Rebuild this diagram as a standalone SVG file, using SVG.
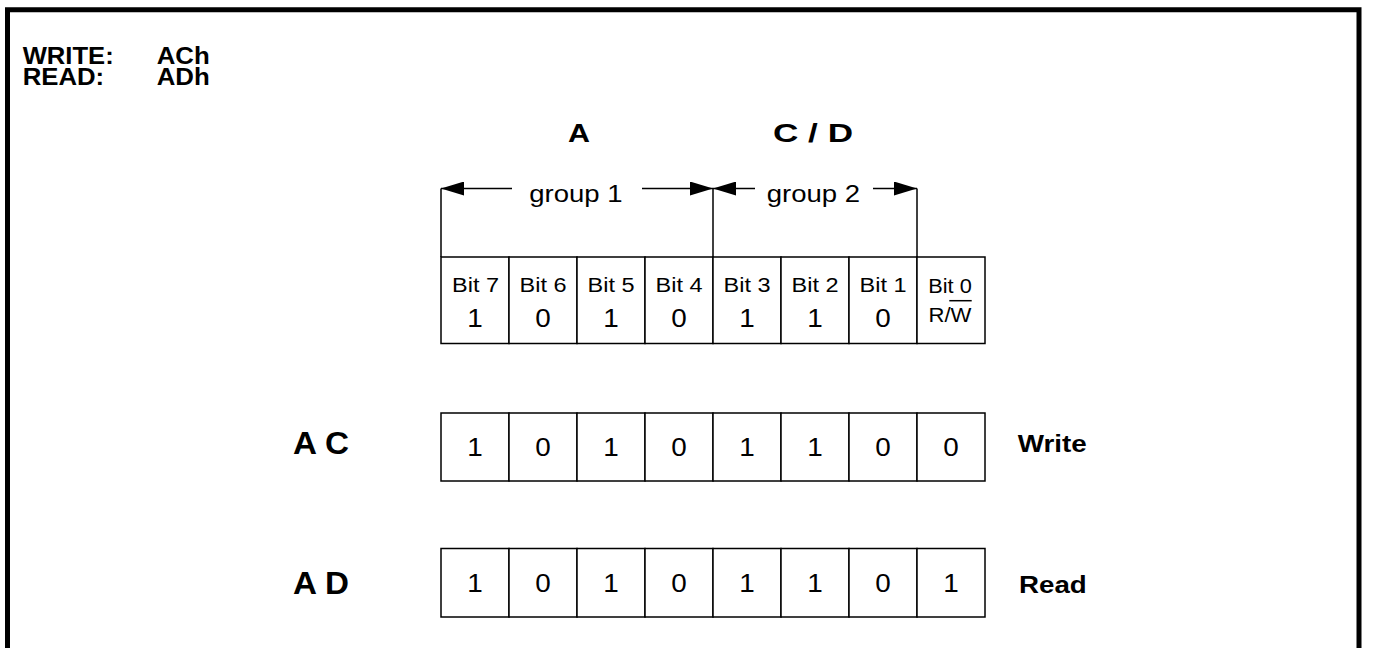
<svg xmlns="http://www.w3.org/2000/svg" width="1376" height="648" viewBox="0 0 1376 648">
<style>
text{font-family:"Liberation Sans",Arial,Helvetica,sans-serif;fill:#000}
.b{font-weight:bold}
.cell{fill:#fff;stroke:#000;stroke-width:1.5}
.ln{stroke:#000;stroke-width:1.5;fill:none}
.frame{stroke:#000;stroke-width:5;fill:none}
.bit{font-size:20px}
.val{font-size:25px}
</style>
<defs>
<marker id="ah" markerUnits="userSpaceOnUse" markerWidth="23" markerHeight="14" refX="23" refY="7" orient="auto">
<path d="M0,0 L23,7 L0,14 Z" fill="#000"/>
</marker>
</defs>
<rect width="1376" height="648" fill="#fff"/>
<g id="frame">
<path class="frame" d="M7.5,648 V9.8 H1359 V648"/>
</g>
<g id="header">
<text class="b" x="22.7" y="64" font-size="23" textLength="91" lengthAdjust="spacingAndGlyphs">WRITE:</text>
<text class="b" x="156.7" y="64" font-size="23" textLength="53" lengthAdjust="spacingAndGlyphs">ACh</text>
<text class="b" x="22.7" y="85" font-size="23" textLength="81.5" lengthAdjust="spacingAndGlyphs">READ:</text>
<text class="b" x="156.7" y="85" font-size="23" textLength="53" lengthAdjust="spacingAndGlyphs">ADh</text>
</g>
<g id="group-titles">
<text class="b" x="568" y="142" font-size="25" textLength="22" lengthAdjust="spacingAndGlyphs">A</text>
<text class="b" x="773" y="142" font-size="25" textLength="80" lengthAdjust="spacingAndGlyphs">C / D</text>
<text x="529.3" y="202" font-size="24.5" textLength="93.3" lengthAdjust="spacingAndGlyphs">group 1</text>
<text x="766.7" y="202" font-size="24.5" textLength="93.3" lengthAdjust="spacingAndGlyphs">group 2</text>
</g>
<g id="connectors">
<line class="ln" x1="441" y1="188.5" x2="441" y2="257"/>
<line class="ln" x1="713" y1="188.5" x2="713" y2="257"/>
<line class="ln" x1="917" y1="188.5" x2="917" y2="257"/>
<line class="ln" x1="512" y1="188.5" x2="441" y2="188.5" marker-end="url(#ah)"/>
<line class="ln" x1="642" y1="188.5" x2="713" y2="188.5" marker-end="url(#ah)"/>
<line class="ln" x1="755" y1="188.5" x2="713" y2="188.5" marker-end="url(#ah)"/>
<line class="ln" x1="873" y1="188.5" x2="917" y2="188.5" marker-end="url(#ah)"/>
</g>
<g id="bit-table">
<rect class="cell" x="441" y="257" width="68" height="86.5"/>
<rect class="cell" x="509" y="257" width="68" height="86.5"/>
<rect class="cell" x="577" y="257" width="68" height="86.5"/>
<rect class="cell" x="645" y="257" width="68" height="86.5"/>
<rect class="cell" x="713" y="257" width="68" height="86.5"/>
<rect class="cell" x="781" y="257" width="68" height="86.5"/>
<rect class="cell" x="849" y="257" width="68" height="86.5"/>
<rect class="cell" x="917" y="257" width="68" height="86.5"/>
<g text-anchor="middle">
<text class="bit" x="475.5" y="292" textLength="47" lengthAdjust="spacingAndGlyphs">Bit 7</text>
<text class="bit" x="543" y="292" textLength="47" lengthAdjust="spacingAndGlyphs">Bit 6</text>
<text class="bit" x="611" y="292" textLength="47" lengthAdjust="spacingAndGlyphs">Bit 5</text>
<text class="bit" x="679" y="292" textLength="47" lengthAdjust="spacingAndGlyphs">Bit 4</text>
<text class="bit" x="747" y="292" textLength="47" lengthAdjust="spacingAndGlyphs">Bit 3</text>
<text class="bit" x="815" y="292" textLength="47" lengthAdjust="spacingAndGlyphs">Bit 2</text>
<text class="bit" x="883" y="292" textLength="47" lengthAdjust="spacingAndGlyphs">Bit 1</text>
<text class="bit" x="950" y="293.3" textLength="43.5" lengthAdjust="spacingAndGlyphs">Bit 0</text>
<text class="val" x="475" y="326.5" textLength="15.5" lengthAdjust="spacingAndGlyphs">1</text>
<text class="val" x="543" y="326.5" textLength="15.5" lengthAdjust="spacingAndGlyphs">0</text>
<text class="val" x="611" y="326.5" textLength="15.5" lengthAdjust="spacingAndGlyphs">1</text>
<text class="val" x="679" y="326.5" textLength="15.5" lengthAdjust="spacingAndGlyphs">0</text>
<text class="val" x="747" y="326.5" textLength="15.5" lengthAdjust="spacingAndGlyphs">1</text>
<text class="val" x="815" y="326.5" textLength="15.5" lengthAdjust="spacingAndGlyphs">1</text>
<text class="val" x="883" y="326.5" textLength="15.5" lengthAdjust="spacingAndGlyphs">0</text>
<text x="950" y="321.7" font-size="21" textLength="43" lengthAdjust="spacingAndGlyphs">R/W</text>
</g>
<line class="ln" x1="949.3" y1="300.7" x2="971.7" y2="300.7"/>
</g>
<g id="row-ac">
<text class="b" x="293" y="454" font-size="31" textLength="56" lengthAdjust="spacingAndGlyphs">A C</text>
<rect class="cell" x="441" y="413" width="68" height="68"/>
<rect class="cell" x="509" y="413" width="68" height="68"/>
<rect class="cell" x="577" y="413" width="68" height="68"/>
<rect class="cell" x="645" y="413" width="68" height="68"/>
<rect class="cell" x="713" y="413" width="68" height="68"/>
<rect class="cell" x="781" y="413" width="68" height="68"/>
<rect class="cell" x="849" y="413" width="68" height="68"/>
<rect class="cell" x="917" y="413" width="68" height="68"/>
<g text-anchor="middle">
<text class="val" x="475" y="456" textLength="15.5" lengthAdjust="spacingAndGlyphs">1</text>
<text class="val" x="543" y="456" textLength="15.5" lengthAdjust="spacingAndGlyphs">0</text>
<text class="val" x="611" y="456" textLength="15.5" lengthAdjust="spacingAndGlyphs">1</text>
<text class="val" x="679" y="456" textLength="15.5" lengthAdjust="spacingAndGlyphs">0</text>
<text class="val" x="747" y="456" textLength="15.5" lengthAdjust="spacingAndGlyphs">1</text>
<text class="val" x="815" y="456" textLength="15.5" lengthAdjust="spacingAndGlyphs">1</text>
<text class="val" x="883" y="456" textLength="15.5" lengthAdjust="spacingAndGlyphs">0</text>
<text class="val" x="951" y="456" textLength="15.5" lengthAdjust="spacingAndGlyphs">0</text>
</g>
<text class="b" x="1017.7" y="451.7" font-size="24" textLength="69" lengthAdjust="spacingAndGlyphs">Write</text>
</g>
<g id="row-ad">
<text class="b" x="293" y="594" font-size="31" textLength="56" lengthAdjust="spacingAndGlyphs">A D</text>
<rect class="cell" x="441" y="548.5" width="68" height="68.5"/>
<rect class="cell" x="509" y="548.5" width="68" height="68.5"/>
<rect class="cell" x="577" y="548.5" width="68" height="68.5"/>
<rect class="cell" x="645" y="548.5" width="68" height="68.5"/>
<rect class="cell" x="713" y="548.5" width="68" height="68.5"/>
<rect class="cell" x="781" y="548.5" width="68" height="68.5"/>
<rect class="cell" x="849" y="548.5" width="68" height="68.5"/>
<rect class="cell" x="917" y="548.5" width="68" height="68.5"/>
<g text-anchor="middle">
<text class="val" x="475" y="592" textLength="15.5" lengthAdjust="spacingAndGlyphs">1</text>
<text class="val" x="543" y="592" textLength="15.5" lengthAdjust="spacingAndGlyphs">0</text>
<text class="val" x="611" y="592" textLength="15.5" lengthAdjust="spacingAndGlyphs">1</text>
<text class="val" x="679" y="592" textLength="15.5" lengthAdjust="spacingAndGlyphs">0</text>
<text class="val" x="747" y="592" textLength="15.5" lengthAdjust="spacingAndGlyphs">1</text>
<text class="val" x="815" y="592" textLength="15.5" lengthAdjust="spacingAndGlyphs">1</text>
<text class="val" x="883" y="592" textLength="15.5" lengthAdjust="spacingAndGlyphs">0</text>
<text class="val" x="951" y="592" textLength="15.5" lengthAdjust="spacingAndGlyphs">1</text>
</g>
<text class="b" x="1019" y="592.7" font-size="24" textLength="67.7" lengthAdjust="spacingAndGlyphs">Read</text>
</g>
</svg>
